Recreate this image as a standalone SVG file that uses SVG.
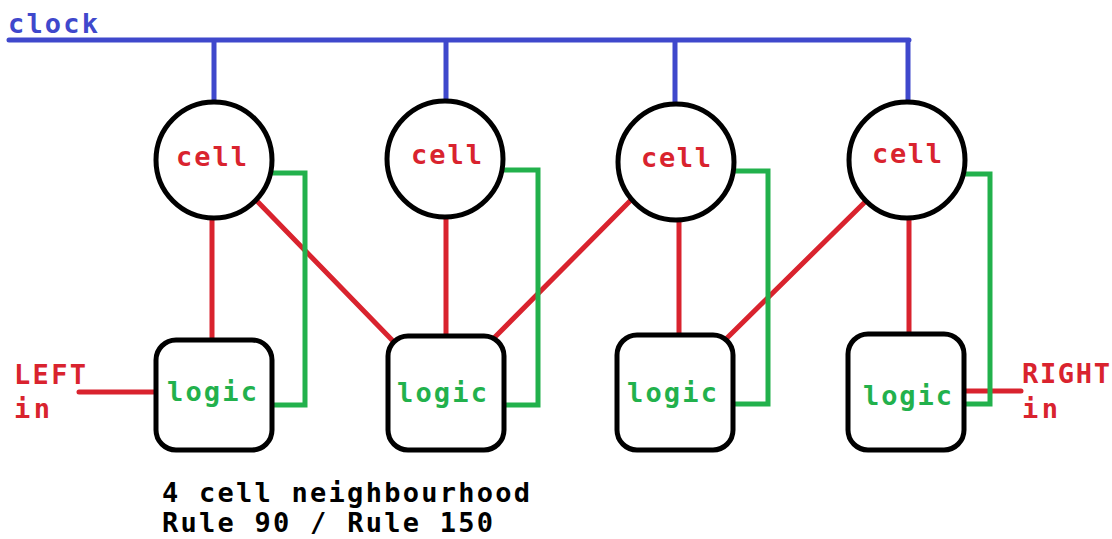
<svg xmlns="http://www.w3.org/2000/svg" width="1112" height="539" viewBox="0 0 1112 539">
<style>
.bg{fill:#ffffff}
.w{fill:none;stroke-width:5;stroke-linecap:round;stroke-linejoin:miter}
.blue{stroke:#3f48cc}
.red{stroke:#d9232e}
.green{stroke:#22b14c}
.cell{fill:#ffffff;stroke:#000000;stroke-width:5}
.box{fill:#ffffff;stroke:#000000;stroke-width:5}
.t{font-family:"DejaVu Sans Mono","Liberation Mono",monospace;font-weight:bold;font-size:27px}
.tr{fill:#d9232e}
.tg{fill:#22b14c}
.tb{fill:#3f48cc}
.tk{fill:#000000}
</style>
<rect class="bg" x="0" y="0" width="1112" height="539"/>
<text class="t tb" x="8" y="33" textLength="90">clock</text>
<g id="connectors">
  <path class="w blue" d="M9,40 H909 M214,40 V103 M446,40 V102 M675,40 V104 M908,40 V102"/>
  <path class="w red" d="M212,210 V340 M256,200 L392,340 M446,210 V336 M632,199 L494,338 M679,210 V335 M867,200 L727,338 M909,210 V333"/>
  <path class="w red" d="M79,392 H157 M963,391 H1021"/>
  <path class="w green" d="M265,173 H305 V405 H273"/>
  <path class="w green" d="M500,170 H538 V405 H505"/>
  <path class="w green" d="M734,171 H768 V404 H734"/>
  <path class="w green" d="M964,174 H990 V404 H965"/>
</g>
<g id="cell1"><circle class="cell" cx="214" cy="160" r="58"/><text class="t tr" x="176" y="166" textLength="71">cell</text></g>
<g id="cell2"><circle class="cell" cx="445" cy="159" r="58"/><text class="t tr" x="411" y="164" textLength="71">cell</text></g>
<g id="cell3"><circle class="cell" cx="676" cy="162" r="58"/><text class="t tr" x="641" y="167" textLength="70">cell</text></g>
<g id="cell4"><circle class="cell" cx="907" cy="160" r="58"/><text class="t tr" x="872" y="163" textLength="70">cell</text></g>
<g id="logic1"><rect class="box" x="156" y="340" width="116" height="110" rx="20"/><text class="t tg" x="167" y="401" textLength="90">logic</text></g>
<g id="logic2"><rect class="box" x="388" y="336" width="116" height="114" rx="20"/><text class="t tg" x="397" y="402" textLength="90">logic</text></g>
<g id="logic3"><rect class="box" x="617" y="335" width="116" height="115" rx="20"/><text class="t tg" x="627" y="402" textLength="90">logic</text></g>
<g id="logic4"><rect class="box" x="848" y="334" width="116" height="116" rx="20"/><text class="t tg" x="863" y="405" textLength="89">logic</text></g>
<g id="left-in"><text class="t tr" x="14" y="384" textLength="72">LEFT</text><text class="t tr" x="14" y="418" textLength="36">in</text></g>
<g id="right-in"><text class="t tr" x="1022" y="383" textLength="88">RIGHT</text><text class="t tr" x="1022" y="418" textLength="36">in</text></g>
<g id="caption"><text class="t tk" x="162" y="502" textLength="368">4 cell neighbourhood</text><text class="t tk" x="162" y="532" textLength="331">Rule 90 / Rule 150</text></g>
</svg>
